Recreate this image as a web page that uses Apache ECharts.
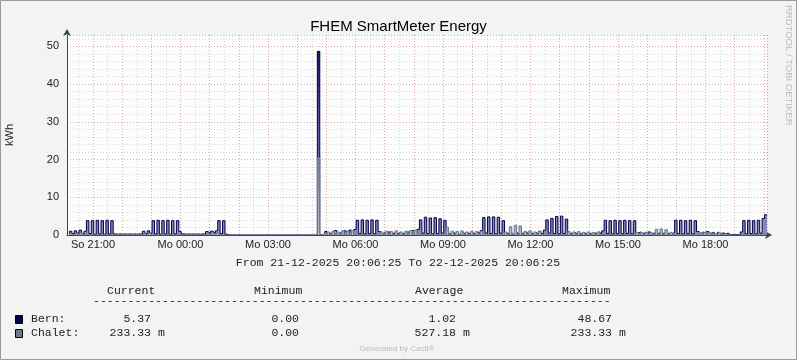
<!DOCTYPE html>
<html><head><meta charset="utf-8">
<script src="https://cdn.jsdelivr.net/npm/echarts@6/dist/echarts.min.js"></script>
<style>html,body{margin:0;padding:0;background:#F3F3F3}#c{width:797px;height:360px}</style>
</head><body><div id="c"></div>
<script>
// Time range: 21-12-2025 20:06:25 -> 22-12-2025 20:06:25, 5-minute samples (hours since 21-12 00:00)
const startHour = 20 + 6/60 + 25/3600;
const stepHours = 5/60;
const dayNames = ['So', 'Mo'];
const yTicks = [0, 10, 20, 30, 40, 50];

// Bern kWh, one row per hour of samples
const bern = [
 0.3,1.0,0.4,1.1,0.5,1.3,0.4,1.0,3.8,0.4,3.8,0.2,
 3.9,0.3,3.8,0.2,3.9,0.3,3.8,0.3,0.2,0.3,0.2,0.3,
 0.2,0.3,0.2,0.3,0.2,0.3,0.2,1.0,0.4,1.1,0.5,3.8,
 0.3,3.9,0.2,3.8,0.3,3.9,0.2,3.8,0.3,3.8,0.9,0.3,
 0.2,0.3,0.2,0.3,0.2,0.3,0.2,0.3,0.2,0.9,0.4,1.0,
 0.5,1.1,3.8,0.4,3.8,0.2,0,0,0,0,0,0,
 0,0,0,0,0,0,0,0,0,0,0,0,
 0,0,0,0,0,0,0,0,0,0,0,0,
 0,0,0,0,0,0,0,48.67,0,0.3,0.9,0.3,
 0.6,0.2,1.2,0.4,0.7,0.3,1.1,0.5,1.3,0.6,1.5,3.9,
 0.4,4.0,0.3,3.9,0.4,4.0,0.3,3.9,0.9,0.3,0.7,0.2,
 0.8,0.3,0.6,0.2,0.7,0.3,0.5,0.2,0.8,0.3,1.2,0.4,
 1.5,4.0,0.5,4.7,0.4,4.5,0.3,4.6,0.4,4.3,0.5,3.9,
 1.0,0.3,0.7,0.3,0.8,0.2,0.6,0.3,0.7,0.2,0.6,0.3,
 0.8,0.4,1.2,4.6,0.5,4.8,0.4,4.8,0.3,4.7,0.5,3.8,
 0.6,0.3,0.8,0.2,0.7,0.3,0.6,0.2,0.8,0.3,0.6,0.2,
 0.7,0.3,1.0,0.4,1.3,4.0,0.5,4.4,0.4,4.9,0.3,5.0,
 0.4,4.2,0.6,0.2,0.7,0.3,0.5,0.2,0.6,0.2,0.5,0.2,
 0.6,0.3,0.8,0.3,1.1,3.9,0.4,3.8,0.3,3.9,0.4,3.8,
 0.3,3.9,0.4,3.8,0.3,3.8,0.5,0.8,0.3,0.7,0.2,0.8,
 0.3,0.6,0.2,0.7,0.3,0.6,0.2,0.5,0.3,0.7,3.9,0.4,
 3.9,0.3,3.8,0.4,3.9,0.3,3.8,0.9,0.4,0.8,0.3,0.9,
 0.4,0.7,0.3,0.8,0.2,0.6,0.3,0.5,0.1,0.1,0.1,0.1,
 0.1,0.8,3.8,0.3,3.9,0.4,3.8,0.3,3.9,0.5,4.4,5.37
];
// Chalet kWh
const chalet = [
 0,0.3,0,0.4,0,0.5,0,0.3,0,0,0,0,
 0,0,0,0,0,0,0,0.2,0,0.2,0,0.2,
 0,0.2,0,0.2,0,0.2,0,0.4,0,0.5,0,0,
 0,0,0,0,0,0,0,0,0,0,0,0,
 0,0.2,0,0.2,0,0.2,0,0.2,0,0.3,0,0.4,
 0,0.5,0,0,0,0,0,0,0,0,0,0,
 0,0,0,0,0,0,0,0,0,0,0,0,
 0,0,0,0,0,0,0,0,0,0,0,0,
 0,0,0,0,0,0,0,20.5,0,0.5,0,0.8,
 0,1.0,0,0.8,0,1.1,0,0.9,0,1.2,0,0,
 0,0,0,0,0,0,0,0,0,0.8,0,1.0,
 0,0.9,0,1.1,0,0.8,0,1.0,0,1.2,0,1.3,
 0,0,0,0,0,0,0,0,0,0,0,0,
 2.1,0,1.0,0,0.9,0,1.1,0,0.8,0,1.0,0,
 0.9,0,1.0,0,0,0,0,0,0,0,0,0,
 0.8,0,2.2,0,2.6,0,2.4,0,0.9,0,1.1,0,
 0.8,0,0.9,0,0,0,0,0,0,0,0,0,
 0,0,0.9,0,0.8,0,0.9,0,0.7,0,0.8,0,
 0.7,0,0.8,0,0,0,0,0,0,0,0,0,
 0,0,0,0,0,0,0.7,0,0.6,0,0.7,0,
 0.6,0,1.5,0,1.6,0,1.4,0,0.7,0,0,0,
 0,0,0,0,0,0,0,0,0.6,0,0.7,0,
 0.6,0,0.5,0,0.6,0,0.4,0,0,0,0,0,
 0,0,0,0,0,0,0,0,0,0,0,0.23
];

const legendHeader = ['Current', 'Minimum', 'Average', 'Maximum'];
const bernStats = ['5.37', '0.00', '1.02', '48.67'];
const chaletStats = ['233.33 m', '0.00', '527.18 m', '233.33 m'];
const periodText = 'From 21-12-2025 20:06:25 To 22-12-2025 20:06:25';

const toPairs = arr => arr.map((v, i) => [startHour + (i + 1) * stepHours, v]);

const axisColor = '#2C4D43';
const mono = '"Liberation Mono", "DejaVu Sans Mono", monospace';
const sans = '"Liberation Sans", Arial, sans-serif';

function fmtX(v) {
  const r = Math.round(v);
  if (Math.abs(v - r) > 1e-6 || r % 3 !== 0) return '';
  const h = r % 24;
  return dayNames[r < 24 ? 0 : 1] + ' ' + String(h).padStart(2, '0') + ':00';
}

const chart = echarts.init(document.getElementById('c'), null, {renderer: 'canvas'});
const monoText = (x, y, t, align) => ({type: 'text', x: x, y: y, style: {text: t, font: '11.5px ' + mono, fill: '#222', align: align || 'left', verticalAlign: 'middle'}});
const colX = [107, 254, 415, 562];
const valEnd = [151, 299, 456, 612];

const graphics = [
  {type: 'rect', shape: {x: 0.5, y: 0.5, width: 796, height: 359}, style: {fill: 'none', stroke: '#9A9A9A', lineWidth: 1}, z: 100},
  {type: 'text', x: 789, y: 5, rotation: -Math.PI / 2, style: {text: 'RRDTOOL / TOBI OETIKER', font: '9.5px ' + sans, fill: '#BDBDBD', align: 'left', verticalAlign: 'middle'}},
  {type: 'text', x: 398, y: 263, style: {text: periodText, font: '11.5px ' + mono, fill: '#222', align: 'center', verticalAlign: 'middle'}},
  monoText(93, 301, '-'.repeat(75)),
  {type: 'rect', shape: {x: 15.5, y: 315.5, width: 7, height: 8}, style: {fill: '#00004A', stroke: '#000', lineWidth: 1}},
  {type: 'rect', shape: {x: 15.5, y: 329.5, width: 7, height: 8}, style: {fill: '#6B7B8C', stroke: '#000', lineWidth: 1}},
  monoText(31, 319, 'Bern:'),
  monoText(31, 333, 'Chalet:'),
  {type: 'text', x: 397, y: 349, style: {text: 'Generated by Cacti®', font: '8px ' + sans, fill: '#BBBBBB', align: 'center', verticalAlign: 'middle'}}
];
legendHeader.forEach((t, i) => graphics.push(monoText(colX[i], 291, t)));
bernStats.forEach((t, i) => graphics.push(monoText(valEnd[i], 319, t, 'right')));
chaletStats.forEach((t, i) => {
  const hasM = t.endsWith(' m');
  graphics.push(monoText(valEnd[i], 333, hasM ? t.slice(0, -2) : t, 'right'));
  if (hasM) graphics.push(monoText(valEnd[i], 333, ' m', 'left'));
});

const majorGrid = {show: true, lineStyle: {color: 'rgba(230,90,90,0.38)', type: [1, 2], width: 1}};
const minorGrid = {show: true, lineStyle: {color: 'rgba(120,120,120,0.28)', type: [1, 2], width: 1}};

chart.setOption({
  animation: false,
  backgroundColor: '#F3F3F3',
  title: {text: 'FHEM SmartMeter Energy', left: 'center', top: 14,
    textStyle: {fontFamily: sans, fontSize: 15, fontWeight: 'normal', color: '#000'}},
  grid: {left: 67, right: 30, top: 35, bottom: 125, show: true, backgroundColor: '#FDFDFD', borderWidth: 0,
    containLabel: false, outerBoundsMode: 'none'},
  xAxis: [
    {type: 'value', min: startHour, max: startHour + 24, splitNumber: 24,
      axisLine: {show: true, onZero: false, lineStyle: {color: axisColor, width: 1},
        symbol: ['none', 'arrow'], symbolSize: [6, 7], symbolOffset: [0, 5]},
      axisTick: {show: false},
      axisLabel: {formatter: fmtX, showMinLabel: false, showMaxLabel: false, margin: 4,
        fontFamily: sans, fontSize: 11, color: '#222', hideOverlap: false},
      splitLine: majorGrid, z: 5},
    {type: 'value', min: startHour, max: startHour + 24, splitNumber: 48, show: true,
      axisLine: {show: false}, axisTick: {show: false}, axisLabel: {show: false},
      splitLine: minorGrid, z: 1}
  ],
  yAxis: [
    {type: 'value', min: 0, max: 53, interval: 10, name: 'kWh', nameLocation: 'middle', nameGap: 52, nameRotate: 90,
      nameTextStyle: {fontFamily: sans, fontSize: 11, color: '#222'},
      axisLine: {show: true, lineStyle: {color: axisColor, width: 1},
        symbol: ['none', 'arrow'], symbolSize: [6, 7], symbolOffset: [0, 6]},
      axisTick: {show: false},
      axisLabel: {formatter: v => (yTicks.indexOf(v) >= 0 ? String(v) : ''), margin: 8, fontFamily: sans, fontSize: 11, color: '#222'},
      splitLine: majorGrid, z: 5},
    {type: 'value', min: 0, max: 53, interval: 2, show: true,
      axisLine: {show: false}, axisTick: {show: false}, axisLabel: {show: false},
      splitLine: minorGrid, z: 1}
  ],
  graphic: graphics,
  series: [
    {name: 'Bern', type: 'line', xAxisIndex: 0, yAxisIndex: 0, step: 'start', symbol: 'none',
      data: toPairs(bern),
      lineStyle: {color: '#00004A', width: 1},
      areaStyle: {opacity: 1, color: new echarts.graphic.LinearGradient(0, 0, 0, 1, [
        {offset: 0, color: '#14145A'}, {offset: 0.45, color: '#5E5E9E'}, {offset: 1, color: '#8C8CB8'}])},
      z: 10},
    {name: 'Chalet', type: 'line', xAxisIndex: 0, yAxisIndex: 0, step: 'start', symbol: 'none',
      data: toPairs(chalet),
      lineStyle: {color: '#6B7B8C', width: 1},
      areaStyle: {opacity: 1, color: new echarts.graphic.LinearGradient(0, 0, 0, 1, [
        {offset: 0, color: '#7A8594'}, {offset: 1, color: '#B0B5C0'}])},
      z: 11}
  ]
});
</script></body></html>
